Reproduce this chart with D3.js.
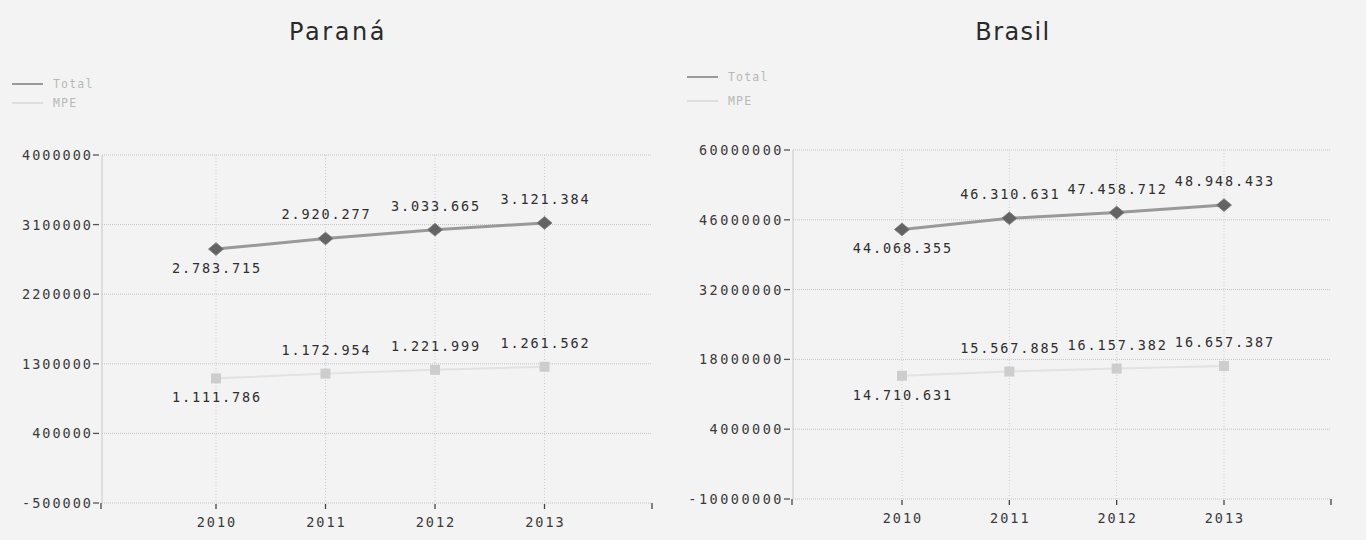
<!DOCTYPE html>
<html><head><meta charset="utf-8">
<script src="https://cdn.jsdelivr.net/npm/d3@7"></script>
<style>body{margin:0;background:#f3f3f3}svg{display:block}</style>
</head><body>
<svg id="c" width="1366" height="540"></svg>
<script>
const years = [2010, 2011, 2012, 2013];
const paranaTotal = [2783715, 2920277, 3033665, 3121384];
const paranaMPE = [1111786, 1172954, 1221999, 1261562];
const brasilTotal = [44068355, 46310631, 47458712, 48948433];
const brasilMPE = [14710631, 15567885, 16157382, 16657387];
const paranaTicks = [-500000, 400000, 1300000, 2200000, 3100000, 4000000];
const brasilTicks = [-10000000, 4000000, 18000000, 32000000, 46000000, 60000000];
const seriesNames = ["Total", "MPE"];
const titles = ["Paraná", "Brasil"];

const fmt = d3.formatLocale({decimal: ",", thousands: ".", grouping: [3], currency: ["", ""]}).format(",d");
const mono = "'DejaVu Sans Mono', monospace";
const svg = d3.select("#c");
svg.append("rect").attr("width", 1366).attr("height", 540).attr("fill", "#f3f3f3");

const panels = [
  {title: titles[0], total: paranaTotal, mpe: paranaMPE, ticks: paranaTicks,
   axisX: 102, x0: 216, x3: 544.5, right: 652, top: 155, bottom: 503,
   titleX: 338, titleLs: 2.6, yLs: 2,
   legX: 12, legY: [84, 103]},
  {title: titles[1], total: brasilTotal, mpe: brasilMPE, ticks: brasilTicks,
   axisX: 793, x0: 902, x3: 1224, right: 1331, top: 150, bottom: 499,
   titleX: 1013, titleLs: 1.4, yLs: 2.5,
   legX: 687, legY: [77, 101]}
];

panels.forEach(p => {
  const g = svg.append("g");
  const x = d3.scaleLinear().domain([years[0], years[years.length - 1]]).range([p.x0, p.x3]);
  const y = d3.scaleLinear().domain([p.ticks[0], p.ticks[p.ticks.length - 1]]).range([p.bottom, p.top]);

  // title
  g.append("text").attr("x", p.titleX).attr("y", 40).attr("text-anchor", "middle")
    .attr("font-family", "'DejaVu Sans', Verdana, sans-serif").attr("font-size", 24)
    .attr("letter-spacing", p.titleLs).attr("fill", "#2a2a2a").text(p.title);

  // legend
  const legColors = ["#9a9a9a", "#dedede"];
  seriesNames.forEach((s, i) => {
    g.append("line").attr("x1", p.legX).attr("x2", p.legX + 31).attr("y1", p.legY[i]).attr("y2", p.legY[i])
      .attr("stroke", legColors[i]).attr("stroke-width", 2);
    g.append("text").attr("x", p.legX + 41).attr("y", p.legY[i] + 4)
      .attr("font-family", mono).attr("font-size", 11.5).attr("letter-spacing", 1.2)
      .attr("fill", "#b8b8b8").text(s);
  });

  // horizontal grid + y labels
  p.ticks.forEach(t => {
    g.append("line").attr("x1", p.axisX).attr("x2", p.right).attr("y1", y(t)).attr("y2", y(t))
      .attr("stroke", "#c4c4c4").attr("stroke-width", 1).attr("stroke-dasharray", "1,1");
    g.append("line").attr("x1", p.axisX - 9).attr("x2", p.axisX - 3).attr("y1", y(t)).attr("y2", y(t))
      .attr("stroke", "#555").attr("stroke-width", 1.3);
    g.append("text").attr("x", p.axisX - 9).attr("y", y(t) + 5).attr("text-anchor", "end")
      .attr("font-family", mono).attr("font-size", 13.5).attr("letter-spacing", p.yLs)
      .attr("fill", "#3a3a3a").text(t);
  });
  // y axis line
  g.append("line").attr("x1", p.axisX).attr("x2", p.axisX).attr("y1", p.top).attr("y2", p.bottom)
    .attr("stroke", "#c8c8c8").attr("stroke-width", 1);

  // vertical grid + x ticks
  years.forEach(yr => {
    g.append("line").attr("x1", x(yr)).attr("x2", x(yr)).attr("y1", p.top).attr("y2", p.bottom)
      .attr("stroke", "#cfcfcf").attr("stroke-width", 1).attr("stroke-dasharray", "1,2");
    g.append("line").attr("x1", x(yr)).attr("x2", x(yr)).attr("y1", p.bottom + 1).attr("y2", p.bottom + 6)
      .attr("stroke", "#444").attr("stroke-width", 1.3);
    g.append("text").attr("x", x(yr) + 1).attr("y", p.bottom + 24).attr("text-anchor", "middle")
      .attr("font-family", mono).attr("font-size", 13.5).attr("letter-spacing", 2)
      .attr("fill", "#3a3a3a").text(yr);
  });
  // outer ticks
  [p.axisX - 1, p.right].forEach(xx => {
    g.append("line").attr("x1", xx).attr("x2", xx).attr("y1", p.bottom).attr("y2", p.bottom + 6)
      .attr("stroke", "#444").attr("stroke-width", 1.3);
  });

  // MPE series
  const line = d3.line().x((d, i) => x(years[i])).y(d => y(d));
  g.append("path").datum(p.mpe).attr("d", line).attr("fill", "none")
    .attr("stroke", "#e2e2e2").attr("stroke-width", 2);
  g.selectAll(".mpe").data(p.mpe).enter().append("rect")
    .attr("x", (d, i) => x(years[i]) - 5).attr("y", d => y(d) - 5)
    .attr("width", 10).attr("height", 10).attr("fill", "#cdcdcd");

  // Total series
  g.append("path").datum(p.total).attr("d", line).attr("fill", "none")
    .attr("stroke", "#999").attr("stroke-width", 3);
  g.selectAll(".tot").data(p.total).enter().append("path")
    .attr("d", d3.symbol(d3.symbolSquare, 90))
    .attr("transform", (d, i) => `translate(${x(years[i])},${y(d)}) scale(1.12,0.95) rotate(45)`)
    .attr("fill", "#636363").attr("stroke", "#808080").attr("stroke-width", 0.8);

  // labels
  [p.total, p.mpe].forEach(vals => {
    vals.forEach((v, i) => {
      const below = i === 0;
      g.append("text").attr("x", x(years[i]) + 1).attr("y", y(v) + (below ? 24 : -19))
        .attr("text-anchor", "middle").attr("font-family", mono).attr("font-size", 13.5)
        .attr("letter-spacing", 1.9).attr("fill", "#2e2e2e").text(fmt(v));
    });
  });
});
</script>
</body></html>
